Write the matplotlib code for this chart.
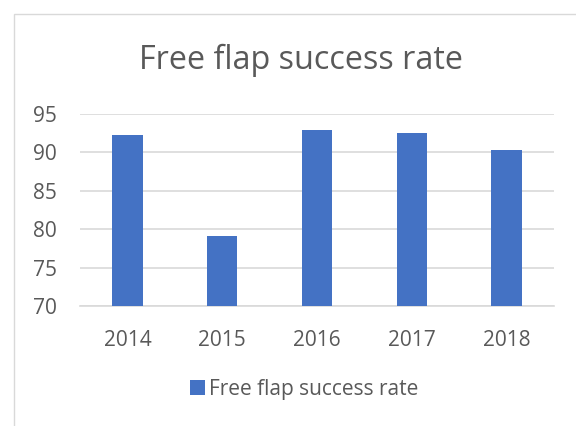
import matplotlib
matplotlib.use("Agg")
import matplotlib.pyplot as plt
from matplotlib.patches import Rectangle, Patch

years = ["2014", "2015", "2016", "2017", "2018"]
success_rate = [92.3, 79.1, 92.9, 92.5, 90.3]
series_name = "Free flap success rate"
title_text = "Free flap success rate"
y_ticks = [70, 75, 80, 85, 90, 95]

TXT = "#595959"
BAR = "#4472C4"
GRID = "#D9D9D9"
FONT = "Open Sans"

plt.rcParams["font.family"] = [FONT, "DejaVu Sans"]

fig = plt.figure(figsize=(5.76, 4.26), dpi=100)
W, H = 576, 426

# chart frame
fig.patches.append(Rectangle((14 / W, -0.1), 1.2, 1 - 14 / H + 0.1,
                             transform=fig.transFigure, fill=False,
                             edgecolor=GRID, linewidth=1.0))

ax = fig.add_axes([80 / W, 1 - 306.3 / H, (554 - 80) / W, (306.3 - 113.7) / H])
x = range(len(years))
ax.bar(x, success_rate, width=0.32, color=BAR, zorder=3)
ax.set_xlim(-0.5, len(years) - 0.5)
ax.set_ylim(70, 95)
ax.set_yticks(y_ticks)
ax.set_xticks(list(x))
ax.set_xticklabels(years)
ax.yaxis.grid(True, color=GRID, linewidth=1.2, zorder=0)
ax.set_axisbelow(True)
for s in ["top", "right", "left"]:
    ax.spines[s].set_visible(False)
ax.spines["bottom"].set_color(GRID)
ax.spines["bottom"].set_linewidth(1.2)
ax.tick_params(axis="both", length=0, colors=TXT, labelsize=15)
ax.tick_params(axis="y", pad=16.5)
ax.tick_params(axis="x", pad=17)

fig.text(301 / W, 1 - 60 / H, title_text, ha="center", va="center",
         fontsize=23.3, color=TXT)

leg = fig.legend(handles=[Patch(facecolor=BAR, label=series_name)],
                 loc="center", bbox_to_anchor=(304 / W, 1 - 389 / H),
                 frameon=False, fontsize=15, labelcolor=TXT,
                 handlelength=0.7, handleheight=0.7, handletextpad=0.2)

fig.savefig("out.png", dpi=100)
